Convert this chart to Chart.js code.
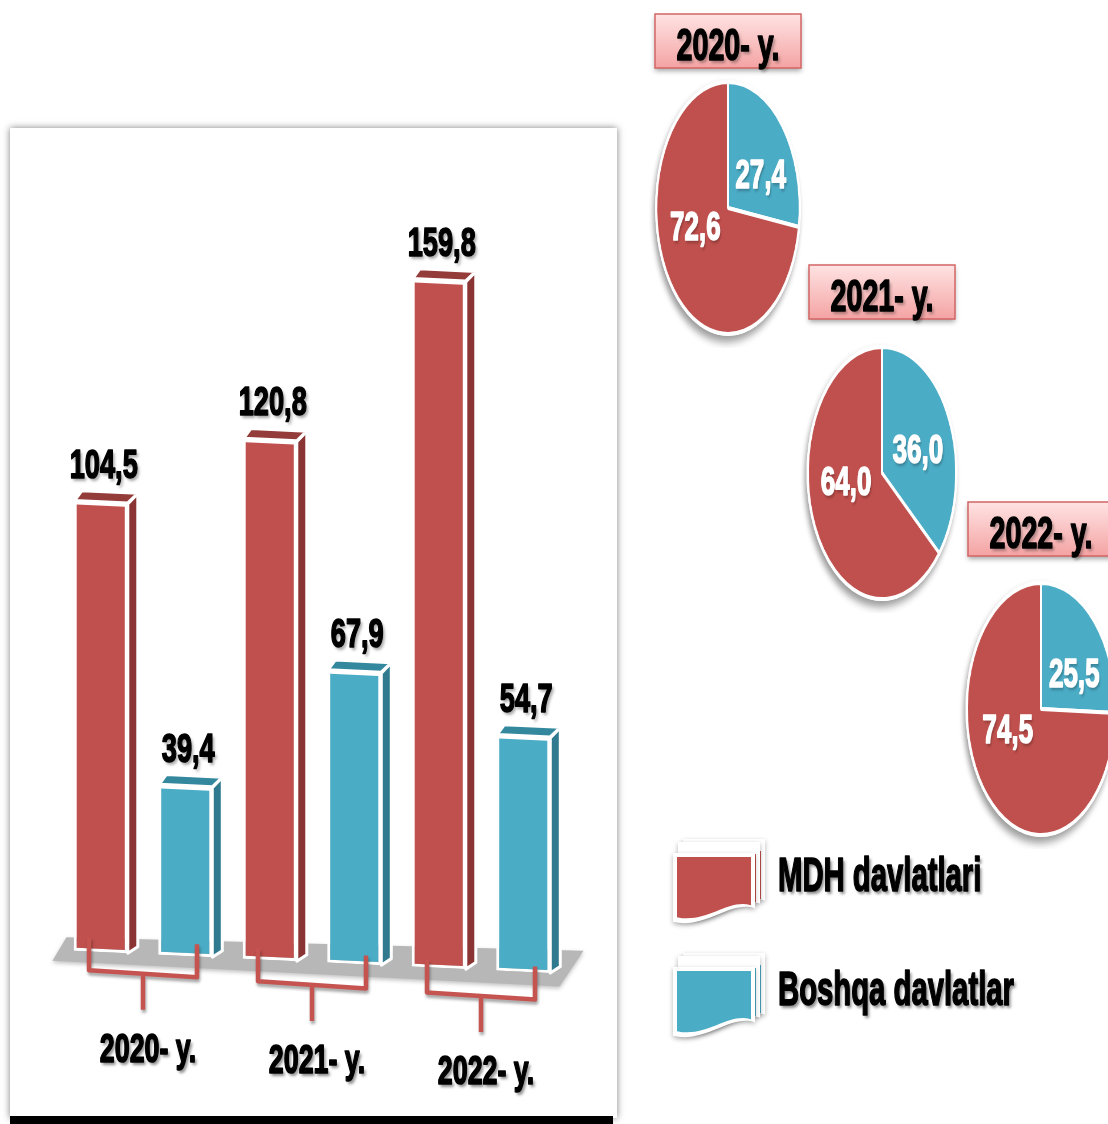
<!DOCTYPE html>
<html>
<head>
<meta charset="utf-8">
<script src="https://cdn.jsdelivr.net/npm/chart.js@4.4.1/dist/chart.umd.min.js"></script>
<style>
  body { margin: 0; background: #fff; }
  #wrap { position: relative; width: 1108px; height: 1124px; overflow: hidden; }
  #wrap canvas { position: absolute; }
</style>
</head>
<body>
<div id="wrap">
  <canvas id="barChart" width="1108" height="1124" style="left:0;top:0"></canvas>
  <canvas id="pie0" width="280" height="280"></canvas>
  <canvas id="pie1" width="280" height="280"></canvas>
  <canvas id="pie2" width="280" height="280"></canvas>
</div>
<script>
// data
const years = ["2020- y.", "2021- y.", "2022- y."];
const seriesNames = ["MDH davlatlari", "Boshqa davlatlar"];
const mdhValues = [104.5, 120.8, 159.8];
const otherValues = [39.4, 67.9, 54.7];
const mdhShare = [72.6, 64.0, 74.5];
const otherShare = [27.4, 36.0, 25.5];

// colours
const RED = "#C0504D", RED_SIDE = "#8A3533", RED_TOP = "#943C39";
const BLUE = "#4BACC6", BLUE_SIDE = "#2F7A8E", BLUE_TOP = "#34889E";
const FONT = '"Liberation Sans", Arial, sans-serif';

// layout of the bar panel
const SHEAR = 0.047;      // bars slope down to the right
const SHEAR2 = 0.066;     // brackets / year labels slope
const DX = 10, DY = 11;   // 3d depth

const fmt = v => v.toFixed(1).replace(".", ",");

// condensed heavy text (stretched tall like the original)
function tallText(ctx, text, x, y, size, sx, color, shadow, align) {
  ctx.save();
  ctx.translate(x, y);
  ctx.scale(sx, 1);
  ctx.font = `bold ${size}px ${FONT}`;
  ctx.textAlign = align || "center";
  ctx.textBaseline = "alphabetic";
  if (shadow) {
    ctx.shadowColor = shadow;
    ctx.shadowBlur = 3;
    ctx.shadowOffsetX = 2;
    ctx.shadowOffsetY = 3;
  }
  ctx.fillStyle = color;
  ctx.fillText(text, 0, 0);
  ctx.shadowColor = "transparent";
  ctx.strokeStyle = color;
  ctx.lineWidth = 1.6;
  ctx.lineJoin = "round";
  ctx.strokeText(text, 0, 0);
  ctx.restore();
}

function poly(ctx, pts) {
  ctx.beginPath();
  ctx.moveTo(pts[0][0], pts[0][1]);
  for (let i = 1; i < pts.length; i++) ctx.lineTo(pts[i][0], pts[i][1]);
  ctx.closePath();
}

// ✅ panel, floor and 3d sides
const bar3d = {
  id: "bar3d",
  beforeDraw(chart) {
    const ctx = chart.ctx;
    ctx.save();
    ctx.fillStyle = "#fff";
    ctx.fillRect(0, 0, chart.width, chart.height);
    ctx.shadowColor = "rgba(0,0,0,0.5)";
    ctx.shadowBlur = 7;
    ctx.fillRect(10, 128, 607, 990);
    ctx.restore();
    ctx.fillStyle = "#000";
    ctx.fillRect(10, 1116, 603, 8);
  },
  beforeDatasetsDraw(chart) {
    const { ctx, chartArea: a } = chart;
    const x0 = a.left + 43;
    const B = a.bottom;
    ctx.save();
    ctx.transform(1, SHEAR, 0, 1, 0, -SHEAR * x0);

    // grey floor
    ctx.save();
    ctx.shadowColor = "rgba(0,0,0,0.25)";
    ctx.shadowBlur = 4;
    ctx.shadowOffsetY = 2;
    poly(ctx, [[a.left - 6, B + 11], [a.left + 8, B - 13], [a.right + 18, B - 24], [a.right - 6, B + 13]]);
    ctx.fillStyle = "#b7b7b7";
    ctx.fill();
    ctx.restore();

    const sides = [RED_SIDE, BLUE_SIDE], tops = [RED_TOP, BLUE_TOP];
    chart.data.datasets.forEach((ds, di) => {
      chart.getDatasetMeta(di).data.forEach(bar => {
        const { x, y, base, width } = bar.getProps(["x", "y", "base", "width"], true);
        const L = x - width / 2, R = x + width / 2;
        ctx.lineWidth = 3;
        ctx.lineJoin = "round";
        ctx.strokeStyle = "#fff";
        poly(ctx, [[R, y], [R + DX, y - DY], [R + DX, base - DY + 4], [R, base]]);
        ctx.fillStyle = sides[di];
        ctx.fill();
        ctx.stroke();
        poly(ctx, [[L + 1, y - 1], [L + DX - 2, y - DY], [R + DX, y - DY], [R, y - 1]]);
        ctx.fillStyle = tops[di];
        ctx.fill();
        ctx.stroke();
      });
    });
  },
  afterDatasetsDraw(chart) {
    const { ctx, chartArea: a, scales } = chart;
    ctx.restore();
    const x0 = a.left + 43;
    const B = a.bottom;

    // value labels
    chart.data.datasets.forEach((ds, di) => {
      chart.getDatasetMeta(di).data.forEach((bar, i) => {
        const top = bar.y + SHEAR * (bar.x - x0);
        tallText(ctx, fmt(ds.data[i]), bar.x + 3, top - 25, 40, 0.68, "#000", "rgba(0,0,0,0.35)");
      });
    });

    // brackets + year labels
    const yAt = (x, off) => B + SHEAR2 * (x - x0) + off;
    years.forEach((yr, i) => {
      const cx = scales.x.getPixelForValue(i);
      const l = cx - 54, r = cx + 54;
      ctx.save();
      ctx.strokeStyle = "#C55450";
      ctx.lineWidth = 4.5;
      ctx.lineJoin = "round";
      ctx.shadowColor = "rgba(0,0,0,0.35)";
      ctx.shadowBlur = 3;
      ctx.shadowOffsetX = 1;
      ctx.shadowOffsetY = 3;
      ctx.beginPath();
      ctx.moveTo(l, yAt(l, -14));
      ctx.lineTo(l, yAt(l, 19));
      ctx.lineTo(r, yAt(r, 19));
      ctx.lineTo(r, yAt(r, -14));
      ctx.moveTo(cx, yAt(cx, 19));
      ctx.lineTo(cx, yAt(cx, 55));
      ctx.stroke();
      ctx.restore();
      tallText(ctx, yr, cx + 5, yAt(cx + 5, 107), 40, 0.67, "#000", "rgba(0,0,0,0.45)");
    });
  },
  afterDraw(chart) {
    const ctx = chart.ctx;
    // pie titles
    pieLayout.forEach((p, i) => {
      const w = 146, h = 54, x = p.cx - w / 2, y = p.boxTop;
      ctx.save();
      ctx.shadowColor = "rgba(0,0,0,0.35)";
      ctx.shadowBlur = 5;
      ctx.shadowOffsetY = 3;
      const g = ctx.createLinearGradient(0, y, 0, y + h);
      g.addColorStop(0, "#ffe3e3");
      g.addColorStop(1, "#f4a3a3");
      ctx.fillStyle = g;
      ctx.fillRect(x, y, w, h);
      ctx.restore();
      ctx.strokeStyle = "#d46565";
      ctx.lineWidth = 1.5;
      ctx.strokeRect(x, y, w, h);
      tallText(ctx, years[i], p.cx, y + 46, 44, 0.65, "#000", "rgba(0,0,0,0.3)");
    });

    // legend
    const cols = chart.data.datasets.map(d => d.backgroundColor);
    seriesNames.forEach((name, i) => {
      const x = 677, y = 857 + i * 114;
      drawSwatch(ctx, x, y, 74, 62, cols[i]);
      tallText(ctx, name, 778, y + 34, 48, 0.61, "#000", "rgba(0,0,0,0.45)", "left");
    });
  }
};

function flagPath(ctx, x, y, w, h) {
  ctx.beginPath();
  ctx.moveTo(x, y);
  ctx.lineTo(x + w, y);
  ctx.lineTo(x + w, y + h * 0.78);
  ctx.bezierCurveTo(x + w * 0.7, y + h * 0.66, x + w * 0.4, y + h * 1.08, x, y + h * 0.97);
  ctx.closePath();
}

function drawSwatch(ctx, x, y, w, h, color) {
  for (let k = 2; k >= 0; k--) {
    const ox = x + k * 5, oy = y - k * 3;
    ctx.save();
    ctx.shadowColor = "rgba(0,0,0,0.3)";
    ctx.shadowBlur = 5;
    ctx.shadowOffsetY = 2;
    ctx.fillStyle = "#fff";
    flagPath(ctx, ox - 4, oy - 4 - (k ? 8 : 0), w + 8, h + 9 + (k ? 8 : 0));
    ctx.fill();
    ctx.restore();
    ctx.fillStyle = color;
    flagPath(ctx, ox, oy, w, h);
    ctx.fill();
  }
}

// pie placement (ellipses: square canvas squashed horizontally)
const pieLayout = [
  { cx: 728, cy: 208, sx: 0.57, boxTop: 14 },
  { cx: 882, cy: 473, sx: 0.59, boxTop: 265 },
  { cx: 1041, cy: 709, sx: 0.59, boxTop: 502 }
];

new Chart(document.getElementById("barChart"), {
  type: "bar",
  data: {
    labels: years,
    datasets: [
      { label: seriesNames[0], data: mdhValues, backgroundColor: RED, borderColor: "#fff", borderWidth: 3, borderSkipped: false, clip: false },
      { label: seriesNames[1], data: otherValues, backgroundColor: BLUE, borderColor: "#fff", borderWidth: 3, borderSkipped: false, clip: false }
    ]
  },
  options: {
    responsive: false,
    animation: false,
    devicePixelRatio: 1,
    layout: { padding: { left: 58.5, right: 542.5, top: 178, bottom: 172 } },
    datasets: { bar: { categoryPercentage: 1.0, barPercentage: 0.64 } },
    scales: {
      x: { display: false },
      y: { display: false, min: 0, max: 180 }
    },
    plugins: { legend: { display: false }, tooltip: { enabled: false } }
  },
  plugins: [bar3d]
});

// ✅ pies
const pieDeco = {
  id: "pieDeco",
  beforeDatasetsDraw(chart) {
    const ctx = chart.ctx;
    const arc = chart.getDatasetMeta(0).data[0];
    ctx.save();
    ctx.shadowColor = "rgba(0,0,0,0.4)";
    ctx.shadowBlur = 9;
    ctx.shadowOffsetX = -3;
    ctx.shadowOffsetY = 6;
    ctx.fillStyle = "#fff";
    ctx.beginPath();
    ctx.arc(arc.x, arc.y, arc.outerRadius + 2, 0, Math.PI * 2);
    ctx.fill();
    ctx.restore();
  },
  afterDatasetsDraw(chart) {
    const ctx = chart.ctx;
    const sx = chart.options.squash;
    chart.getDatasetMeta(0).data.forEach((arc, i) => {
      let mid = (arc.startAngle + arc.endAngle) / 2;
      // pull labels a bit toward the horizontal like the original
      const side = Math.cos(mid) >= 0 ? 0 : Math.PI;
      mid = mid + (side - mid) * 0.4;
      const r = arc.outerRadius * 0.5;
      const x = arc.x + Math.cos(mid) * r;
      const y = arc.y + Math.sin(mid) * r + 6;
      tallText(ctx, fmt(chart.data.datasets[0].data[i]), x, y, 40, 0.65 / sx, "#fff", "rgba(0,0,0,0.25)");
    });
  }
};

pieLayout.forEach((p, i) => {
  const cv = document.getElementById("pie" + i);
  cv.style.left = (p.cx - 140) + "px";
  cv.style.top = (p.cy - 140) + "px";
  cv.style.transform = `scaleX(${p.sx})`;
  new Chart(cv, {
    type: "pie",
    data: {
      labels: [seriesNames[1], seriesNames[0]],
      datasets: [{ data: [otherShare[i], mdhShare[i]], backgroundColor: [BLUE, RED], borderColor: "#fff", borderWidth: 4 }]
    },
    options: {
      responsive: false,
      animation: false,
      devicePixelRatio: 1,
      squash: p.sx,
      layout: { padding: 12 },
      plugins: { legend: { display: false }, tooltip: { enabled: false } }
    },
    plugins: [pieDeco]
  });
});
</script>
</body>
</html>
